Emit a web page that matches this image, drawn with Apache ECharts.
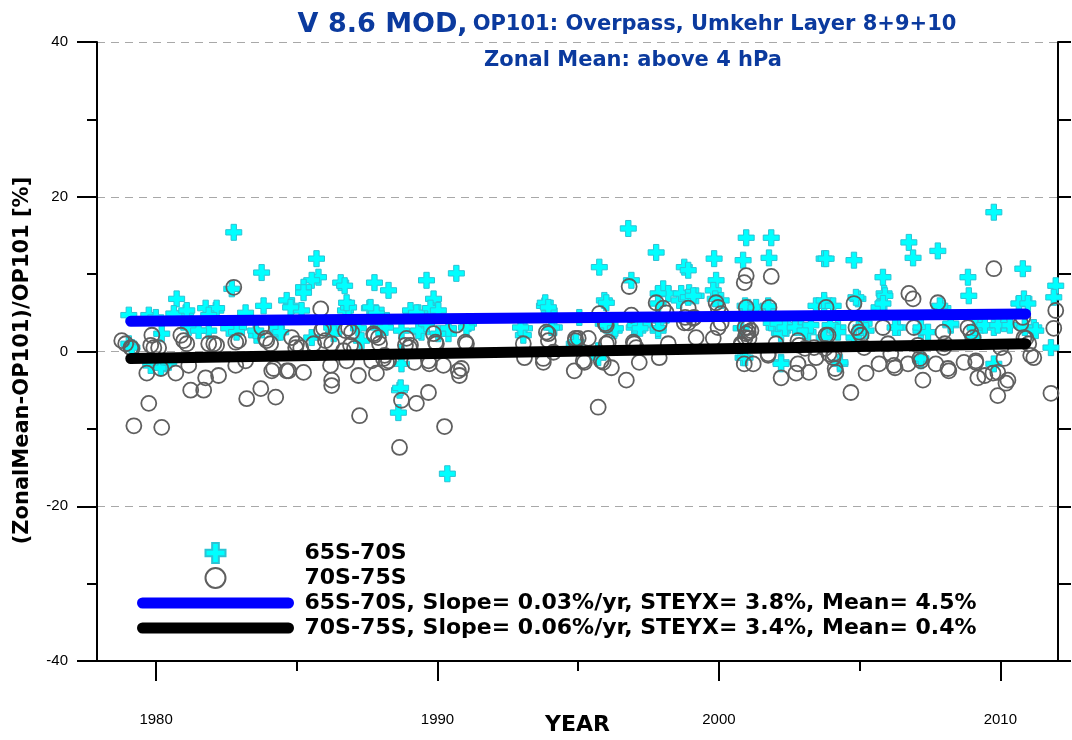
<!DOCTYPE html>
<html>
<head>
<meta charset="utf-8">
<title>V 8.6 MOD, OP101 Overpass, Umkehr Layer 8+9+10</title>
<script src="https://cdn.jsdelivr.net/npm/echarts@6/dist/echarts.min.js"></script>
<style>
html,body{margin:0;padding:0;background:#fff;}
#chart{width:1072px;height:740px;}
</style>
</head>
<body>
<div id="chart"></div>
<script>
// values: [year, percent]
var lat6570 = [
  [1982.76,15.4],[1985.70,12.0],[1983.75,10.2],[1985.77,9.6],[1985.53,9.2],[1985.24,8.3],[1986.56,8.9],[1980.73,6.8],
  [1983.82,5.9],[1984.64,6.6],[1984.82,5.9],[1985.17,5.3],[1981.76,5.6],[1982.12,5.3],[1981.05,5.0],[1983.18,5.0],
  [1980.63,4.9],[1982.69,8.1],[1979.03,4.7],[1979.74,4.7],[1980.20,2.3],[1981.16,3.1],[1981.87,2.7],[1982.93,3.1],
  [1983.57,2.1],[1984.35,2.5],[1985.53,1.8],[1986.24,3.1],[1986.73,5.3],[1979.81,-1.8],[1980.34,-1.6],[1979.03,1.0],
  [1979.99,4.4],[1981.09,5.3],[1982.15,5.6],[1981.87,4.7],[1984.78,5.7],[1985.24,7.6],[1981.51,2.7],[1982.58,3.0],
  [1982.86,2.5],[1983.54,2.7],[1984.28,3.0],[1984.43,2.5],[1986.31,2.3],[1980.17,-2.1],[1980.45,-1.4],[1979.14,0.5],
  [1990.67,10.1],[1989.61,9.2],[1987.76,8.9],[1988.26,7.9],[1989.86,6.8],[1986.70,8.5],[1986.84,5.7],[1987.58,5.6],
  [1988.01,4.7],[1989.08,4.7],[1989.32,5.0],[1989.79,5.3],[1989.43,2.5],[1990.03,2.3],[1990.39,2.3],[1991.10,3.6],
  [1987.19,3.0],[1988.12,3.4],[1988.72,2.7],[1988.72,-0.1],[1988.65,-5.0],[1988.61,-7.9],[1990.35,-15.8],[1993.80,5.9],
  [1993.97,5.3],[1993.09,3.0],[1993.05,2.1],[1994.15,3.1],[1995.04,4.4],[1994.86,1.0],
  [1986.77,6.3],[1987.62,5.7],[1987.83,4.9],[1989.04,5.3],[1989.25,5.0],[1989.75,5.6],[1990.03,5.3],[1987.90,3.1],
  [1988.15,3.1],[1989.32,2.7],[1989.61,3.6],[1990.39,3.0],[1991.03,3.1],[1987.30,1.4],[1988.72,-1.6],[1988.69,-4.7],
  [1992.95,3.1],[1993.83,6.3],[1993.94,5.7],[1994.05,3.1],[1994.93,1.2],
  [1996.78,15.9],[1997.77,12.8],[1995.75,10.9],[1998.77,10.9],[1998.91,10.5],[1999.83,12.0],[2000.97,14.7],[2001.86,14.7],
  [2000.86,11.8],[2001.78,12.1],[2003.74,12.0],[1996.89,9.2],[1999.90,9.2],[1998.02,8.1],[1998.20,7.5],[1998.94,7.6],
  [1999.19,7.2],[1999.80,7.9],[1998.59,6.6],[1995.93,6.6],[2000.08,6.6],[2001.04,5.7],[2001.75,5.7],[2003.74,6.2],
  [1995.89,3.6],[1996.28,2.7],[1996.99,3.1],[1997.31,3.4],[1997.84,2.7],[1997.95,4.0],[2001.07,5.3],[2001.96,3.1],
  [2002.46,3.4],[2002.92,3.1],[2003.17,2.5],[2002.21,2.3],[2000.86,-0.8],[2002.21,-1.4],[1995.71,0.1],[2003.74,1.8],
  [1996.00,6.3],[1997.84,7.5],[1997.84,6.2],[1998.66,7.5],[1998.91,7.0],[1999.09,7.2],[1999.87,6.8],[2000.93,5.9],
  [2001.32,5.7],[2001.75,5.9],[2001.86,3.7],[1996.00,3.4],[1996.32,3.0],[1997.03,3.4],[1997.20,3.0],[1997.84,3.0],
  [2000.79,3.0],[2002.10,3.6],[2002.35,3.1],[2002.71,3.1],[2003.06,2.7],[2003.27,3.4],[2000.93,-0.8],[2002.21,-1.6],
  [1995.71,-0.8],[2003.45,5.9],
  [2009.77,18.0],[2006.75,14.1],[2006.90,12.1],[2007.78,13.0],[2003.81,12.0],[2004.80,11.8],[2010.80,10.7],[2005.83,9.6],
  [2008.85,9.6],[2005.87,7.5],[2008.88,7.2],[2011.97,8.5],[2011.90,7.0],[2010.84,6.8],[2010.66,6.2],[2004.94,6.8],
  [2005.69,5.7],[2007.96,5.6],[2003.74,6.6],[2004.23,3.1],[2005.16,3.6],[2006.36,3.1],[2007.18,2.7],[2008.24,3.4],
  [2009.31,3.4],[2009.77,3.1],[2010.13,3.6],[2011.19,3.1],[2004.30,-1.6],[2007.18,-1.2],[2011.80,0.5],[2009.77,-1.6],
  [2004.80,1.8],[2009.03,1.8],
  [2004.87,7.0],[2005.90,7.2],[2005.83,6.2],[2010.98,6.2],[2003.95,3.4],[2004.23,2.5],[2005.05,3.1],[2005.23,2.7],
  [2006.26,3.1],[2007.18,3.1],[2007.43,2.5],[2008.24,3.6],[2009.10,3.1],[2009.45,3.4],[2009.91,3.4],[2010.34,3.4],
  [2010.87,3.1],[2011.26,2.7],[2004.30,-1.4],[2007.18,-0.9],[2007.85,5.9],[2004.06,5.9]
];

var lat7075 = [
  [1982.76,8.3],[1985.85,5.5],[1978.78,1.4],[1978.92,1.0],[1979.10,0.5],[1979.85,2.1],[1979.92,0.5],[1980.09,0.5],
  [1980.88,2.1],[1980.98,1.4],[1981.09,1.0],[1981.87,1.0],[1982.05,1.0],[1982.15,0.8],[1982.93,1.4],[1983.75,3.1],
  [1983.93,1.4],[1984.07,1.0],[1984.82,1.8],[1984.96,0.5],[1985.14,0.5],[1985.60,1.0],[1985.95,3.0],[1986.02,1.4],
  [1986.73,2.7],[1986.66,0.1],[1979.67,-2.8],[1980.17,-2.2],[1980.70,-2.8],[1981.16,-1.8],[1981.76,-3.4],[1982.22,-3.1],
  [1982.83,-1.8],[1983.18,-1.2],[1981.23,-5.0],[1981.69,-5.0],[1983.22,-6.1],[1983.72,-4.8],[1984.25,-5.9],[1984.18,-2.2],
  [1984.71,-2.5],[1985.24,-2.7],[1986.20,-1.8],[1986.24,-4.4],[1979.74,-6.7],[1979.21,-9.6],[1980.20,-9.8],
  [1979.14,0.4],[1979.81,0.8],[1982.83,1.2],[1983.89,1.7],[1984.99,1.0],[1985.88,2.7],[1986.24,1.0],[1984.11,-2.5],
  [1984.64,-2.5],[1986.24,-3.7],
  [1986.95,2.5],[1987.76,2.1],[1987.94,1.0],[1986.77,-1.2],[1987.05,0.4],[1987.66,-1.2],[1988.26,-1.2],[1988.12,-0.5],
  [1987.19,-3.1],[1987.83,-2.8],[1988.90,1.7],[1989.00,0.5],[1989.18,-1.4],[1989.86,2.3],[1989.96,1.0],[1989.71,-1.6],
  [1990.21,-1.8],[1990.67,3.4],[1991.03,1.0],[1990.85,-2.2],[1990.78,-3.1],[1988.72,-6.3],[1989.25,-6.7],[1989.68,-5.3],
  [1987.23,-8.3],[1988.65,-12.4],[1990.25,-9.7],[1993.05,1.0],[1993.09,-0.8],[1993.94,2.3],[1994.12,-0.1],[1993.76,-1.4],
  [1994.90,1.4],[1995.18,-1.2],[1994.86,-2.5],
  [1986.84,3.0],[1987.73,2.3],[1987.90,1.8],[1986.91,0.8],[1988.08,-0.9],[1988.19,-1.4],[1988.86,0.8],[1989.04,0.8],
  [1989.93,1.2],[1989.68,-1.2],[1990.99,1.2],[1990.74,-2.5],[1993.87,2.5],[1993.94,1.4],[1993.76,-0.9],[1994.90,1.7],
  [1996.81,8.4],[2000.97,9.8],[2000.90,8.9],[2001.86,9.7],[1997.77,6.3],[1998.02,5.6],[1998.13,5.0],[1998.91,5.6],
  [1999.12,4.4],[1998.77,3.7],[1999.90,6.3],[1999.97,5.7],[2000.08,4.9],[1999.97,3.1],[2000.97,5.7],[2001.78,5.7],
  [1995.75,4.9],[1996.00,3.4],[1996.89,4.7],[1997.88,3.6],[1998.91,3.7],[2001.04,3.1],[2001.14,2.7],[2000.97,2.3],
  [2001.07,1.7],[1995.36,1.7],[1996.00,1.0],[1996.99,1.0],[1997.06,0.5],[1998.20,1.0],[1999.19,1.8],[1999.80,1.7],
  [2000.79,1.0],[1995.22,-1.4],[1995.89,-1.4],[1996.18,-2.1],[1997.17,-1.4],[1997.88,-0.8],[1996.71,-3.7],[1995.71,-7.2],
  [2000.90,-1.6],[2001.22,-1.6],[2001.75,-0.3],[2002.21,-3.4],[2002.74,-2.8],[2003.20,-2.7],[2002.81,-1.6],[2002.85,0.8],
  [2003.38,0.5],[2003.81,2.1],[2003.91,-0.3],
  [1995.00,1.7],[1995.96,3.6],[1996.07,1.2],[1995.82,-1.2],[1996.96,1.2],[1998.80,4.4],[1999.09,4.3],[2000.08,3.7],
  [2000.93,3.1],[2001.04,2.5],[2000.93,1.8],[2000.79,0.8],[2001.75,-0.5],[2002.03,1.0],[2002.81,1.4],[2003.06,0.4],
  [2003.45,-0.8],
  [2009.77,10.7],[2006.75,7.5],[2006.90,6.8],[2007.78,6.3],[2004.80,6.2],[2003.81,5.7],[2011.97,5.3],[2011.90,3.0],
  [2010.80,4.4],[2004.87,3.1],[2004.98,2.5],[2005.83,3.1],[2006.93,3.1],[2007.96,2.5],[2008.85,3.1],[2008.95,2.5],
  [2003.88,2.1],[2010.84,1.8],[2011.01,1.0],[2006.01,1.0],[2005.16,0.5],[2006.11,-0.3],[2007.99,0.5],[2010.02,0.5],
  [2011.19,-0.8],[2004.09,-0.3],[2004.16,-2.7],[2005.69,-1.6],[2006.22,-1.8],[2006.72,-1.6],[2007.18,-1.2],[2007.71,-1.6],
  [2008.17,-2.5],[2008.71,-1.4],[2009.13,-1.4],[2010.13,-0.9],[2009.20,-3.4],[2009.74,-2.8],[2010.20,-4.1],[2009.91,-5.7],
  [2005.23,-2.8],[2007.25,-3.7],[2004.69,-5.3],[2011.80,-5.4],
  [2003.77,0.4],[2004.06,-0.8],[2004.13,-2.2],[2005.05,2.1],[2007.07,0.8],[2007.14,-0.9],[2006.26,-2.1],[2008.03,1.0],
  [2008.14,-2.2],[2009.03,1.8],[2009.13,-1.2],[2009.45,-3.1],[2009.91,-2.7],[2010.27,-3.7],[2010.73,3.6],[2010.91,1.7],
  [2011.08,-0.5]
];

// linear fits, end points
var trendYears = [1979.1, 2010.9];
var trend6570 = [3.9, 4.85];
var trend7075 = [-0.9, 1.0];

var yearTicks = [1980, 1990, 2000, 2010];
var yearMinorTicks = [1985, 1995, 2005];

var seriesNames = ['65S-70S', '70S-75S',
  '65S-70S, Slope= 0.03%/yr, STEYX= 3.8%, Mean= 4.5%',
  '70S-75S, Slope= 0.06%/yr, STEYX= 3.4%, Mean= 0.4%'];

function trendData(vals){
	var d = [];
	for (var i = 0; i < trendYears.length; i++) {
		d.push([trendYears[i], vals[i]]);
	}
	return d;
}

var font = "'Liberation Sans', Arial, sans-serif";
var boldFont = "'DejaVu Sans', sans-serif";
var titleBlue = '#0b3a9e';
var crossPath = 'path://M5,0H10V5H15V10H10V15H5V10H0V5H5Z';

var dom = document.getElementById('chart');
var myChart = echarts.init(dom, null, {renderer: 'canvas'});
var option = {
	animation: false,
	backgroundColor: '#fff',
	title: [
		{
			text: '{a|V 8.6 MOD,} {b|OP101: Overpass, Umkehr Layer 8+9+10}',
			left: 622, top: 6, textAlign: 'center',
			textStyle: {
				rich: {
					a: {fontFamily: boldFont, fontSize: 27, fontWeight: 'bold', color: titleBlue},
					b: {fontFamily: boldFont, fontSize: 21, fontWeight: 'bold', color: titleBlue}
				}
			}
		},
		{
			text: 'Zonal Mean: above 4 hPa',
			left: 628, top: 45, textAlign: 'center',
			textStyle: {fontFamily: boldFont, fontSize: 21, fontWeight: 'bold', color: titleBlue}
		}
	],
	grid: {left: 97, right: 14, top: 42, bottom: 79, outerBoundsMode: 'none'},
	legend: {
		orient: 'vertical',
		left: 137, top: 542, padding: 0,
		itemWidth: 146, itemHeight: 20, itemGap: 3,
		selectedMode: false,
		textStyle: {fontFamily: boldFont, fontSize: 22, fontWeight: 'bold', color: '#000', lineHeight: 20, padding: [0, 0, 0, 11]},
		data: [
			{name: seriesNames[0]},
			{name: seriesNames[1]},
			{name: seriesNames[2], lineStyle: {width: 11, cap: 'round'}, itemStyle: {opacity: 0}},
			{name: seriesNames[3], lineStyle: {width: 11, cap: 'round'}, itemStyle: {opacity: 0}}
		]
	},
	xAxis: [
		{
			type: 'value', min: 1977.9, max: 2012.05, position: 'bottom',
			name: 'YEAR', nameLocation: 'middle', nameGap: 53, nameMoveOverlap: false,
			nameTextStyle: {fontFamily: boldFont, fontSize: 22, fontWeight: 'bold', color: '#000'},
			axisLine: {show: true, onZero: false, lineStyle: {color: '#000', width: 2}},
			axisTick: {show: true, customValues: yearTicks, length: 20, lineStyle: {color: '#000', width: 2}},
			axisLabel: {
				customValues: yearTicks, margin: 51, fontFamily: font, fontSize: 15, color: '#000',
				formatter: function (v) { return String(v); }
			},
			splitLine: {show: false}
		},
		{
			type: 'value', min: 1977.9, max: 2012.05, position: 'bottom',
			axisLine: {show: false, onZero: false},
			axisTick: {show: true, customValues: yearMinorTicks, length: 10, lineStyle: {color: '#000', width: 2}},
			axisLabel: {show: false},
			splitLine: {show: false}
		}
	],
	yAxis: [
		{
			type: 'value', min: -40, max: 40, interval: 20, position: 'left',
			name: '(ZonalMean-OP101)/OP101 [%]', nameLocation: 'middle', nameGap: 64, nameMoveOverlap: false,
			nameTextStyle: {fontFamily: boldFont, fontSize: 21, fontWeight: 'bold', color: '#000', padding: [0, 18, 0, 0]},
			axisLine: {show: true, onZero: false, lineStyle: {color: '#000', width: 2}},
			axisTick: {show: true, length: 20, lineStyle: {color: '#000', width: 2}},
			minorTick: {show: true, splitNumber: 2, length: 10, lineStyle: {color: '#000', width: 2}},
			axisLabel: {margin: 29, fontFamily: font, fontSize: 15, color: '#000'},
			splitLine: {show: true, lineStyle: {color: '#a8a8a8', width: 1, type: [8, 6]}}
		},
		{
			type: 'value', min: -40, max: 40, interval: 10, position: 'right',
			axisLine: {show: true, onZero: false, lineStyle: {color: '#000', width: 2}},
			axisTick: {show: true, length: 13, lineStyle: {color: '#000', width: 2}},
			axisLabel: {show: false},
			splitLine: {show: false}
		}
	],
	series: [
		{
			name: seriesNames[0], type: 'scatter', xAxisIndex: 0, yAxisIndex: 0,
			symbol: crossPath, symbolSize: 16,
			itemStyle: {color: '#00ffff', borderColor: '#2cc3d4', borderWidth: 1, opacity: 1},
			emphasis: {disabled: true},
			data: lat6570
		},
		{
			name: seriesNames[1], type: 'scatter', xAxisIndex: 0, yAxisIndex: 0,
			symbol: 'circle', symbolSize: 15,
			itemStyle: {color: 'rgba(0,0,0,0)', borderColor: '#5f5f5f', borderWidth: 1.8, opacity: 1},
			emphasis: {disabled: true},
			data: lat7075
		},
		{
			name: seriesNames[2], type: 'line', xAxisIndex: 0, yAxisIndex: 0,
			symbol: 'none', silent: true,
			lineStyle: {color: '#0000ff', width: 11, cap: 'round'},
			itemStyle: {color: '#0000ff'},
			data: trendData(trend6570)
		},
		{
			name: seriesNames[3], type: 'line', xAxisIndex: 0, yAxisIndex: 0,
			symbol: 'none', silent: true,
			lineStyle: {color: '#000000', width: 11, cap: 'round'},
			itemStyle: {color: '#000000'},
			data: trendData(trend7075)
		}
	]
};
myChart.setOption(option);
</script>
</body>
</html>
